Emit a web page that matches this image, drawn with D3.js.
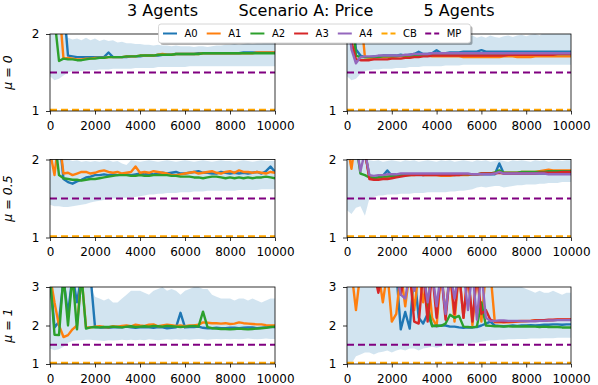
<!DOCTYPE html>
<html>
<head>
<meta charset="utf-8">
<script src="https://cdn.jsdelivr.net/npm/d3@7"></script>
<style>
  body { margin: 0; background: #fff; }
  svg { font-family: "DejaVu Sans", sans-serif; }
</style>
</head>
<body>
<svg id="chart" width="598" height="385"></svg>
<script>
// sample points (every 200 steps)
const steps = d3.range(0, 10001, 200);
const xTicks = [0, 2000, 4000, 6000, 8000, 10000];
const agents = ["A0", "A1", "A2", "A3", "A4"];
const agentColors = ["#1f77b4", "#ff7f0e", "#2ca02c", "#d62728", "#9467bd"];
const cbPrice = 1;
const mpPrice = 1.5;

// ---- 3 agents, mu = 0 ----
const a3m0_A0 = [2.6,2.6,2.5,2.4,1.72,1.71,1.70,1.70,1.70,1.70, 1.70,1.70,1.70,1.76,1.70,1.70,1.70,1.70,1.71,1.71, 1.71,1.72,1.72,1.72,1.72,1.73,1.73,1.73,1.74,1.74, 1.74,1.74,1.74,1.75,1.75,1.75,1.75,1.75,1.75,1.75, 1.75,1.75,1.75,1.76,1.76,1.76,1.76,1.76,1.76,1.76,1.76];
const a3m0_A1 = [2.6,2.3,2.4,1.68,1.69,1.68,1.67,1.67,1.68,1.68, 1.69,1.69,1.69,1.70,1.70,1.70,1.70,1.71,1.71,1.71, 1.72,1.72,1.72,1.72,1.73,1.74,1.73,1.73,1.74,1.74, 1.74,1.74,1.74,1.74,1.75,1.75,1.75,1.75,1.75,1.75, 1.75,1.75,1.75,1.75,1.75,1.75,1.76,1.76,1.76,1.76,1.76];
const a3m0_A2 = [2.6,2.2,1.65,1.68,1.67,1.67,1.66,1.66,1.67,1.68, 1.68,1.69,1.69,1.70,1.70,1.70,1.70,1.71,1.71,1.71, 1.72,1.72,1.72,1.72,1.73,1.73,1.73,1.73,1.74,1.74, 1.74,1.74,1.74,1.74,1.75,1.75,1.75,1.75,1.75,1.75, 1.75,1.75,1.75,1.75,1.75,1.75,1.75,1.75,1.75,1.75,1.75];
const a3m0_hi = [2.5,2.5,2.3,2.1,1.95,1.93,1.94,1.92,1.95,1.92, 1.94,1.91,1.93,1.91,1.92,1.89,1.90,1.88,1.88,1.87, 1.87,1.86,1.86,1.85,1.86,1.85,1.85,1.84,1.85,1.84, 1.84,1.84,1.83,1.84,1.84,1.83,1.84,1.85,1.85,1.86, 1.86,1.87,1.86,1.87,1.88,1.87,1.88,1.88,1.89,1.90,1.90];
const a3m0_lo = [1.45,1.40,1.42,1.46,1.50,1.52,1.52,1.52,1.53,1.53, 1.53,1.54,1.54,1.54,1.55,1.55,1.55,1.55,1.55,1.56, 1.56,1.56,1.56,1.56,1.57,1.57,1.57,1.57,1.57,1.57, 1.57,1.58,1.58,1.58,1.58,1.58,1.58,1.58,1.58,1.58, 1.58,1.58,1.58,1.58,1.58,1.58,1.58,1.58,1.58,1.58,1.58];

// ---- 5 agents, mu = 0 ----
const a5m0_A0 = [2.5,2.4,1.8,1.72,1.70,1.70,1.71,1.71,1.72,1.72, 1.72,1.72,1.73,1.72,1.73,1.74,1.77,1.74,1.74,1.75, 1.79,1.75,1.75,1.76,1.76,1.76,1.77,1.77,1.77,1.77, 1.79,1.77,1.77,1.77,1.77,1.77,1.77,1.77,1.77,1.77, 1.77,1.77,1.77,1.77,1.77,1.77,1.77,1.77,1.77,1.77,1.77];
const a5m0_A1 = [2.6,2.5,2.4,2.3,1.70,1.69,1.69,1.70,1.70,1.70, 1.70,1.71,1.71,1.71,1.71,1.72,1.72,1.72,1.72,1.71, 1.71,1.71,1.71,1.71,1.71,1.71,1.70,1.70,1.70,1.70, 1.70,1.70,1.70,1.70,1.70,1.71,1.71,1.71,1.70,1.70, 1.70,1.70,1.71,1.71,1.71,1.71,1.71,1.71,1.71,1.71,1.71];
const a5m0_A2 = [2.5,2.3,1.72,1.70,1.70,1.70,1.70,1.70,1.71,1.71, 1.71,1.71,1.72,1.72,1.72,1.72,1.72,1.72,1.73,1.73, 1.73,1.73,1.73,1.73,1.73,1.73,1.73,1.73,1.73,1.73, 1.73,1.73,1.73,1.73,1.73,1.73,1.73,1.73,1.73,1.73, 1.74,1.74,1.74,1.74,1.74,1.74,1.74,1.74,1.74,1.74,1.74];
const a5m0_A3 = [2.5,1.9,1.67,1.66,1.66,1.66,1.67,1.67,1.67,1.67, 1.68,1.68,1.68,1.69,1.69,1.70,1.70,1.71,1.71,1.72, 1.72,1.72,1.72,1.72,1.72,1.72,1.72,1.72,1.72,1.72, 1.72,1.72,1.72,1.72,1.72,1.72,1.73,1.73,1.73,1.73, 1.73,1.73,1.73,1.73,1.73,1.73,1.73,1.74,1.74,1.74,1.74];
const a5m0_A4 = [2.4,1.8,1.62,1.70,1.71,1.71,1.71,1.72,1.72,1.72, 1.72,1.72,1.72,1.73,1.73,1.74,1.74,1.74,1.74,1.75, 1.75,1.75,1.75,1.75,1.75,1.75,1.75,1.75,1.75,1.75, 1.75,1.75,1.75,1.75,1.75,1.75,1.75,1.75,1.75,1.75, 1.75,1.75,1.75,1.75,1.75,1.75,1.75,1.75,1.75,1.75,1.75];
const a5m0_hi = [2.5,2.5,2.2,2.0,1.98,1.95,1.97,1.94,1.97,1.95, 1.96,1.94,1.97,1.95,1.94,1.96,1.97,1.94,1.96,1.97, 1.95,1.94,1.96,1.97,1.95,1.94,1.96,1.97,1.98,1.95, 1.97,1.95,1.98,1.96,1.95,1.97,1.98,1.96,1.98,1.99, 1.97,1.99,2.0,1.98,2.02,2.05,2.1,2.05,2.1,2.1,2.1];
const a5m0_lo = [1.45,1.40,1.42,1.48,1.52,1.53,1.54,1.54,1.55,1.55, 1.55,1.56,1.56,1.56,1.57,1.57,1.57,1.58,1.58,1.58, 1.58,1.58,1.59,1.59,1.59,1.59,1.60,1.60,1.60,1.60, 1.60,1.60,1.60,1.60,1.60,1.60,1.60,1.60,1.60,1.60, 1.60,1.60,1.60,1.60,1.60,1.60,1.60,1.60,1.60,1.60,1.60];

// ---- 3 agents, mu = 0.5 ----
const a3m05_A0 = [2.5,2.4,2.3,1.75,1.71,1.69,1.72,1.74,1.77,1.78, 1.80,1.80,1.81,1.80,1.81,1.80,1.81,1.81,1.80,1.81, 1.82,1.81,1.82,1.81,1.82,1.83,1.82,1.83,1.84,1.82, 1.82,1.83,1.84,1.85,1.83,1.83,1.82,1.82,1.84,1.83, 1.82,1.83,1.82,1.83,1.82,1.83,1.84,1.82,1.85,1.91,1.84];
const a3m05_A1 = [2.1,1.8,2.3,1.82,1.83,1.80,1.82,1.84,1.84,1.82, 1.83,1.85,1.86,1.84,1.83,1.84,1.82,1.83,1.84,1.91, 1.83,1.84,1.83,1.85,1.84,1.83,1.82,1.80,1.80,1.81, 1.82,1.83,1.84,1.82,1.83,1.84,1.85,1.83,1.82,1.84, 1.85,1.83,1.86,1.84,1.84,1.83,1.84,1.83,1.82,1.84,1.83];
const a3m05_A2 = [2.4,2.3,1.80,1.76,1.75,1.74,1.74,1.73,1.74,1.75, 1.75,1.76,1.77,1.78,1.79,1.80,1.80,1.80,1.79,1.79, 1.80,1.79,1.79,1.80,1.80,1.80,1.80,1.79,1.79,1.78, 1.78,1.78,1.77,1.77,1.76,1.77,1.78,1.78,1.77,1.76, 1.77,1.76,1.77,1.76,1.77,1.76,1.77,1.77,1.78,1.77,1.76];
const a3m05_hi = [2.3,2.2,2.1,2.05,2.0,1.98,1.99,1.97,1.98,1.97, 1.98,1.97,1.98,1.99,1.97,1.98,1.95,1.93,1.99,1.98, 1.97,1.98,1.99,1.98,1.97,1.98,1.99,1.98,1.97,1.98, 1.99,1.98,1.97,1.98,1.99,1.98,1.97,1.98,1.99,1.98, 1.98,1.97,1.98,1.99,1.98,1.97,1.98,1.99,1.98,1.98,1.98];
const a3m05_lo = [1.42,1.40,1.40,1.39,1.39,1.40,1.41,1.42,1.43,1.45, 1.46,1.47,1.48,1.49,1.50,1.50,1.51,1.51,1.52,1.52, 1.53,1.54,1.55,1.55,1.56,1.56,1.57,1.57,1.57,1.58, 1.58,1.58,1.59,1.59,1.59,1.60,1.60,1.60,1.60,1.60, 1.60,1.60,1.61,1.61,1.61,1.61,1.61,1.62,1.62,1.62,1.62];

// ---- 5 agents, mu = 0.5 ----
const a5m05_A0 = [2.5,2.4,2.3,2.2,2.1,1.78,1.76,1.77,1.79,1.86, 1.79,1.79,1.80,1.80,1.81,1.81,1.81,1.80,1.81,1.81, 1.81,1.81,1.81,1.81,1.80,1.81,1.81,1.81,1.81,1.81, 1.81,1.81,1.81,1.81,1.95,1.82,1.82,1.82,1.82,1.82, 1.82,1.82,1.82,1.82,1.82,1.82,1.82,1.82,1.82,1.82,1.82];
const a5m05_A1 = [2.2,1.88,2.3,2.2,2.1,1.78,1.76,1.76,1.77,1.78, 1.78,1.79,1.79,1.80,1.80,1.80,1.81,1.80,1.80,1.80, 1.80,1.79,1.79,1.79,1.80,1.80,1.80,1.80,1.81,1.81, 1.81,1.82,1.82,1.83,1.84,1.83,1.83,1.83,1.83,1.84, 1.84,1.84,1.84,1.85,1.86,1.87,1.86,1.86,1.86,1.86,1.86];
const a5m05_A2 = [2.5,2.3,2.2,1.82,1.80,1.77,1.76,1.77,1.78,1.78, 1.79,1.79,1.80,1.80,1.80,1.81,1.81,1.81,1.81,1.81, 1.81,1.81,1.81,1.81,1.81,1.81,1.81,1.81,1.81,1.81, 1.82,1.82,1.82,1.83,1.86,1.83,1.83,1.83,1.83,1.84, 1.84,1.84,1.84,1.84,1.84,1.85,1.85,1.85,1.85,1.85,1.85];
const a5m05_A3 = [2.5,2.4,2.3,2.2,2.1,1.75,1.74,1.74,1.75,1.75, 1.76,1.77,1.78,1.79,1.80,1.80,1.80,1.80,1.80,1.80, 1.80,1.80,1.80,1.80,1.80,1.80,1.81,1.81,1.81,1.81, 1.82,1.82,1.82,1.82,1.83,1.82,1.82,1.82,1.82,1.82, 1.82,1.82,1.82,1.83,1.83,1.83,1.83,1.83,1.84,1.84,1.84];
const a5m05_A4 = [2.5,2.4,2.2,1.85,2.1,1.80,1.79,1.80,1.80,1.81, 1.81,1.81,1.82,1.82,1.82,1.82,1.82,1.82,1.82,1.82, 1.82,1.82,1.82,1.82,1.82,1.82,1.82,1.82,1.81,1.81, 1.81,1.81,1.81,1.82,1.84,1.82,1.82,1.82,1.82,1.82, 1.82,1.82,1.82,1.82,1.82,1.81,1.81,1.81,1.81,1.81,1.81];
const a5m05_hi = [2.3,2.2,2.1,2.05,2.0,1.99,1.98,1.99,1.97,1.98, 1.99,1.98,1.97,1.99,1.98,1.99,1.97,1.98,1.99,1.98, 1.97,1.99,1.98,1.99,1.97,1.98,1.99,1.98,1.97,1.99, 1.98,1.99,1.97,1.98,1.99,1.98,1.97,1.99,1.98,1.99, 1.98,1.97,1.99,1.98,1.99,1.97,1.98,1.99,1.98,1.99,1.99];
const a5m05_lo = [1.35,1.30,1.38,1.40,1.28,1.50,1.52,1.54,1.54,1.55, 1.55,1.55,1.56,1.56,1.56,1.57,1.57,1.57,1.58,1.58, 1.58,1.58,1.58,1.59,1.59,1.60,1.60,1.61,1.62,1.64, 1.65,1.64,1.65,1.66,1.66,1.64,1.65,1.66,1.67,1.67, 1.68,1.68,1.68,1.69,1.69,1.70,1.70,1.70,1.71,1.71,1.71];

// ---- 3 agents, mu = 1 ----
const a3m1_A0 = [3.3,1.95,2.1,3.2,2.3,3.3,2.6,3.3,3.3,3.3, 1.96,1.95,1.95,1.94,1.95,1.96,1.95,1.97,1.95,1.94, 1.95,1.96,1.95,1.94,1.96,1.95,1.93,1.94,1.95,2.33, 1.95,1.96,1.96,1.97,1.94,1.93,1.93,1.94,1.93,1.93, 1.94,1.94,1.93,1.94,1.95,1.95,1.93,1.94,1.95,1.96,1.96];
const a3m1_A1 = [3.3,2.6,2.0,1.70,1.75,1.90,2.0,3.3,1.95,1.95, 1.97,1.98,1.96,1.95,1.98,1.97,1.99,2.00,1.98,2.02, 2.00,1.99,2.02,2.03,1.98,2.00,2.02,2.01,1.99,2.00, 1.98,2.00,2.00,2.02,2.08,2.07,2.06,2.06,2.05,2.06, 2.04,2.05,2.08,2.06,2.05,2.04,2.03,2.03,2.01,2.00,2.00];
const a3m1_A2 = [3.3,1.76,1.75,3.3,2.0,3.3,1.9,3.3,1.92,1.95, 1.96,1.95,1.96,1.96,1.97,1.96,1.95,1.97,1.98,1.96, 1.97,1.98,1.97,1.99,1.98,1.97,1.99,1.98,1.97,1.96, 1.97,1.98,1.99,1.97,2.36,1.96,1.93,1.92,1.91,1.91, 1.90,1.91,1.92,1.91,1.90,1.91,1.92,1.93,1.94,1.96,1.97];
const a3m1_hi = [3.5,3.5,3.5,3.5,3.5,3.5,3.5,3.5,3.3,3.0, 2.75,2.7,2.65,2.7,2.6,2.6,2.7,2.8,2.9,2.9, 2.9,2.85,2.8,2.9,2.95,3.0,2.9,2.95,2.9,2.8, 2.9,2.95,3.0,3.0,2.95,2.95,2.8,2.75,2.7,2.7, 2.7,2.65,2.7,2.7,2.65,2.7,2.65,2.6,2.65,2.7,2.7];
const a3m1_lo = [1.40,1.36,1.38,1.45,1.55,1.60,1.62,1.62,1.63,1.63, 1.62,1.61,1.60,1.62,1.61,1.62,1.63,1.62,1.63,1.62, 1.63,1.62,1.64,1.63,1.62,1.63,1.64,1.63,1.64,1.63, 1.64,1.63,1.64,1.65,1.64,1.63,1.64,1.65,1.64,1.65, 1.64,1.65,1.64,1.65,1.66,1.65,1.64,1.65,1.66,1.65,1.65];

// ---- 5 agents, mu = 1 ----
const a5m1_A0 = [3.4,3.4,3.4,3.4,3.4,3.4,3.4,3.4,3.4,3.4, 3.4,3.4,1.90,2.35,1.92,3.4,2.2,2.05,2.3,2.0, 1.98,2.0,2.0,1.97,1.97,1.95,1.94,1.95,1.95,1.96, 2.0,2.05,2.1,2.0,1.99,1.98,1.99,2.0,1.99,2.0, 2.0,2.01,2.0,2.01,2.02,2.02,2.03,2.03,2.02,2.03,2.03];
const a5m1_A1 = [3.4,3.4,2.4,3.4,3.4,3.4,3.4,3.4,2.6,3.4, 2.1,2.3,3.4,2.5,3.4,2.4,3.4,2.6,3.4,2.2, 1.98,3.4,2.3,3.4,2.1,3.4,2.2,3.4,2.0,3.4, 2.1,3.4,3.4,2.08,2.08,2.09,2.08,2.09,2.10,2.10, 2.11,2.12,2.14,2.13,2.12,2.13,2.14,2.15,2.15,2.15,2.15];
const a5m1_A2 = [3.4,3.4,3.4,3.4,3.4,3.4,3.4,3.4,3.4,3.4, 3.4,3.4,3.4,3.4,3.4,3.4,3.4,3.4,2.5,1.98, 2.0,1.99,2.05,2.28,2.2,2.25,1.97,1.96,1.95,1.97, 2.6,2.0,1.99,1.98,1.98,1.97,1.98,1.97,1.98,1.97, 1.98,1.97,1.97,1.96,1.97,1.96,1.96,1.96,1.95,1.95,1.95];
const a5m1_A3 = [3.4,3.4,3.4,3.4,3.4,3.4,3.4,2.85,3.4,3.4, 3.4,3.4,2.8,3.4,3.4,2.1,2.05,3.4,2.1,3.4, 2.2,3.4,2.15,3.4,2.3,3.4,2.2,3.4,2.1,3.4, 2.3,2.4,2.15,2.1,2.1,2.09,2.1,2.1,2.11,2.12, 2.12,2.12,2.13,2.14,2.14,2.15,2.15,2.16,2.16,2.16,2.16];
const a5m1_A4 = [3.4,3.4,3.4,3.4,3.4,3.4,3.4,3.4,3.4,3.4, 3.4,3.4,2.8,2.7,3.4,2.9,3.4,3.4,2.6,3.4, 2.5,3.4,2.3,3.4,2.7,3.4,3.4,2.4,3.4,2.15, 3.4,2.2,2.12,2.12,2.13,2.13,2.12,2.12,2.12,2.11, 2.11,2.11,2.11,2.12,2.12,2.13,2.13,2.14,2.14,2.14,2.14];
const a5m1_hi = [3.3,3.3,3.3,3.3,3.3,3.3,3.3,3.3,3.3,3.3, 3.3,3.3,3.3,3.3,3.3,3.3,3.3,3.3,3.3,3.3, 3.3,3.3,3.3,3.3,3.3,3.3,3.3,3.3,3.3,3.3, 3.3,3.3,3.3,3.3,3.3,3.3,3.3,3.3,3.1,3.0, 2.95,2.9,2.85,2.9,2.85,2.85,2.9,2.85,2.8,2.85,2.85];
const a5m1_lo = [1.0,1.0,1.2,1.25,1.3,1.3,1.25,1.3,1.32,1.35, 1.3,1.35,1.38,1.35,1.4,1.4,1.35,1.4,1.42,1.45, 1.42,1.45,1.5,1.48,1.5,1.45,1.52,1.5,1.55,1.55, 1.58,1.6,1.62,1.62,1.63,1.63,1.64,1.64,1.65,1.65, 1.65,1.66,1.66,1.66,1.67,1.67,1.67,1.68,1.68,1.68,1.68];

const colX = [[50, 275], [347, 571]];
const rowY = [[34, 111], [159.5, 237.5], [287, 364]];

const panels = [
  { row: 0, col: 0, yDom: [1, 2], yTicks: [1, 2], lines: [a3m0_A0, a3m0_A1, a3m0_A2], hi: a3m0_hi, lo: a3m0_lo },
  { row: 0, col: 1, yDom: [1, 2], yTicks: [1, 2], lines: [a5m0_A0, a5m0_A1, a5m0_A2, a5m0_A3, a5m0_A4], hi: a5m0_hi, lo: a5m0_lo },
  { row: 1, col: 0, yDom: [1, 2], yTicks: [1, 2], lines: [a3m05_A0, a3m05_A1, a3m05_A2], hi: a3m05_hi, lo: a3m05_lo },
  { row: 1, col: 1, yDom: [1, 2], yTicks: [1, 2], lines: [a5m05_A0, a5m05_A1, a5m05_A2, a5m05_A3, a5m05_A4], hi: a5m05_hi, lo: a5m05_lo },
  { row: 2, col: 0, yDom: [1, 3], yTicks: [1, 2, 3], lines: [a3m1_A0, a3m1_A1, a3m1_A2], hi: a3m1_hi, lo: a3m1_lo },
  { row: 2, col: 1, yDom: [1, 3], yTicks: [1, 2, 3], lines: [a5m1_A0, a5m1_A1, a5m1_A2, a5m1_A3, a5m1_A4], hi: a5m1_hi, lo: a5m1_lo }
];
const rowLabels = ["\u03bc = 0", "\u03bc = 0.5", "\u03bc = 1"];

const svg = d3.select("#chart");

panels.forEach((p, i) => {
  const [x0, x1] = colX[p.col];
  const [y0, y1] = rowY[p.row];
  const x = d3.scaleLinear().domain([0, 10000]).range([x0, x1]);
  const y = d3.scaleLinear().domain(p.yDom).range([y1, y0]);

  const clipId = "clip" + i;
  svg.append("clipPath").attr("id", clipId)
    .append("rect").attr("x", x0).attr("y", y0).attr("width", x1 - x0).attr("height", y1 - y0);

  const g = svg.append("g");
  const plot = g.append("g").attr("clip-path", `url(#${clipId})`);

  // spread band
  const area = d3.area()
    .x((d, j) => x(steps[j]))
    .y0((d, j) => y(p.lo[j]))
    .y1((d, j) => y(p.hi[j]));
  plot.append("path").datum(p.hi).attr("d", area)
    .attr("fill", "#1f77b4").attr("fill-opacity", 0.2);

  // agent price lines
  const line = d3.line().x((d, j) => x(steps[j])).y(d => y(d));
  p.lines.forEach((vals, k) => {
    plot.append("path").datum(vals).attr("d", line)
      .attr("fill", "none").attr("stroke", agentColors[k])
      .attr("stroke-width", 2.4).attr("stroke-linejoin", "round");
  });

  // reference lines
  plot.append("line").attr("x1", x0).attr("x2", x1)
    .attr("y1", y(mpPrice)).attr("y2", y(mpPrice))
    .attr("stroke", "purple").attr("stroke-width", 2).attr("stroke-dasharray", "7,4");
  plot.append("line").attr("x1", x0).attr("x2", x1)
    .attr("y1", y(cbPrice) - 1).attr("y2", y(cbPrice) - 1)
    .attr("stroke", "orange").attr("stroke-width", 2.5).attr("stroke-dasharray", "7,4");

  // axes
  const xa = g.append("g").attr("transform", `translate(0,${y1})`)
    .call(d3.axisBottom(x).tickValues(xTicks).tickFormat(d3.format("d")).tickSize(3.5).tickPadding(6.5));
  const ya = g.append("g").attr("transform", `translate(${x0},0)`)
    .call(d3.axisLeft(y).tickValues(p.yTicks).tickFormat(d3.format("d")).tickSize(4).tickPadding(6.5));
  [xa, ya].forEach(a => {
    a.select(".domain").remove();
    a.selectAll("text").attr("font-size", 12).attr("font-family", "DejaVu Sans").attr("fill", "#000");
    a.selectAll("line").attr("stroke", "#000").attr("stroke-width", 0.8);
  });

  g.append("rect").attr("x", x0).attr("y", y0).attr("width", x1 - x0).attr("height", y1 - y0)
    .attr("fill", "none").attr("stroke", "#000").attr("stroke-width", 0.8);

  if (p.col === 0) {
    const cy = (y0 + y1) / 2;
    svg.append("text").attr("transform", `translate(12,${cy}) rotate(-90)`)
      .attr("text-anchor", "middle").attr("font-size", 12.5).attr("font-style", "italic")
      .text(rowLabels[p.row]);
  }
});

// titles
svg.append("text").attr("x", (colX[0][0] + colX[0][1]) / 2).attr("y", 16)
  .attr("text-anchor", "middle").attr("font-size", 16).text("3 Agents");
svg.append("text").attr("x", (colX[1][0] + colX[1][1]) / 2).attr("y", 16)
  .attr("text-anchor", "middle").attr("font-size", 16).text("5 Agents");
svg.append("text").attr("x", 306).attr("y", 16)
  .attr("text-anchor", "middle").attr("font-size", 16).text("Scenario A: Price");

// legend
const legendNames = agents.concat(["CB", "MP"]);
const legendColors = agentColors.concat(["orange", "purple"]);
const lg = svg.append("g");
const lx = 158.5, ly = 24, lw = 312, lh = 19;
lg.append("rect").attr("x", lx + 2).attr("y", ly + 2).attr("width", lw).attr("height", lh)
  .attr("rx", 2.5).attr("fill", "#000").attr("fill-opacity", 0.3);
lg.append("rect").attr("x", lx).attr("y", ly).attr("width", lw).attr("height", lh)
  .attr("rx", 2.5).attr("fill", "#fff").attr("stroke", "#ccc").attr("stroke-width", 0.8);
legendNames.forEach((name, k) => {
  const ex = 163 + k * 43.7;
  lg.append("line").attr("x1", ex).attr("x2", ex + 14).attr("y1", 33.5).attr("y2", 33.5)
    .attr("stroke", legendColors[k]).attr("stroke-width", 2)
    .attr("stroke-dasharray", k >= 5 ? "6,3" : null);
  lg.append("text").attr("x", ex + 21.5).attr("y", 37.3).attr("font-size", 10).text(name);
});
</script>
</body>
</html>
